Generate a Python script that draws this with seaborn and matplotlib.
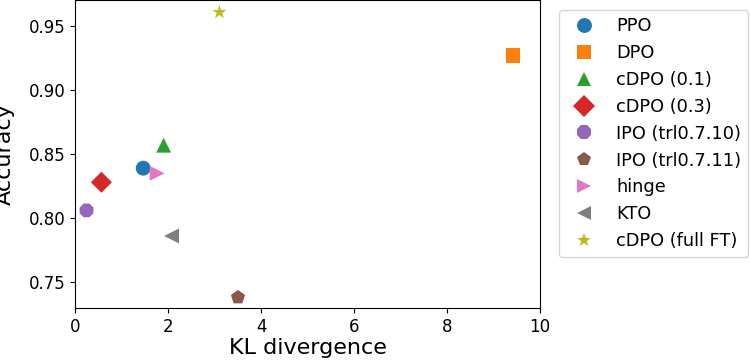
import matplotlib
matplotlib.use("Agg")
import matplotlib.pyplot as plt
import seaborn as sns
import pandas as pd

methods = ["PPO", "DPO", "cDPO (0.1)", "cDPO (0.3)", "IPO (trl0.7.10)",
           "IPO (trl0.7.11)", "hinge", "KTO", "cDPO (full FT)"]
kl = [1.46, 9.42, 1.90, 0.56, 0.24, 3.50, 1.76, 2.07, 3.10]
acc = [0.839, 0.927, 0.857, 0.828, 0.806, 0.738, 0.835, 0.786, 0.961]
markers = ["o", "s", "^", "D", "8", "p", ">", "<", "*"]
colors = sns.color_palette("tab10", 9)

df = pd.DataFrame({"method": methods, "kl": kl, "acc": acc})

plt.rcParams["font.family"] = ["DejaVu Sans"]

fig = plt.figure(figsize=(7.5, 3.61), dpi=100)
ax = fig.add_axes([0.1005, 0.147, 0.6195, 0.852])
sns.scatterplot(data=df, x="kl", y="acc", hue="method", style="method",
                hue_order=methods, style_order=methods, markers=markers,
                palette=colors, s=115, linewidth=0, ax=ax, legend="full")
ax.set_xlim(0, 10)
ax.set_ylim(0.7297, 0.9703)
ax.set_yticks([0.75, 0.80, 0.85, 0.90, 0.95])
ax.set_xlabel("KL divergence", fontsize=16, labelpad=2)
ax.set_ylabel("Accuracy", fontsize=16)
ax.yaxis.set_label_coords(-0.130, 0.5)
ax.tick_params(labelsize=12)
leg = ax.legend(loc="upper left", bbox_to_anchor=(559 / 750, 1 - 10 / 361),
                bbox_transform=fig.transFigure, borderaxespad=0, fontsize=12.8,
                markerscale=1.0, labelspacing=0.5, handletextpad=0.8)
fig.savefig("out.png", dpi=100)
